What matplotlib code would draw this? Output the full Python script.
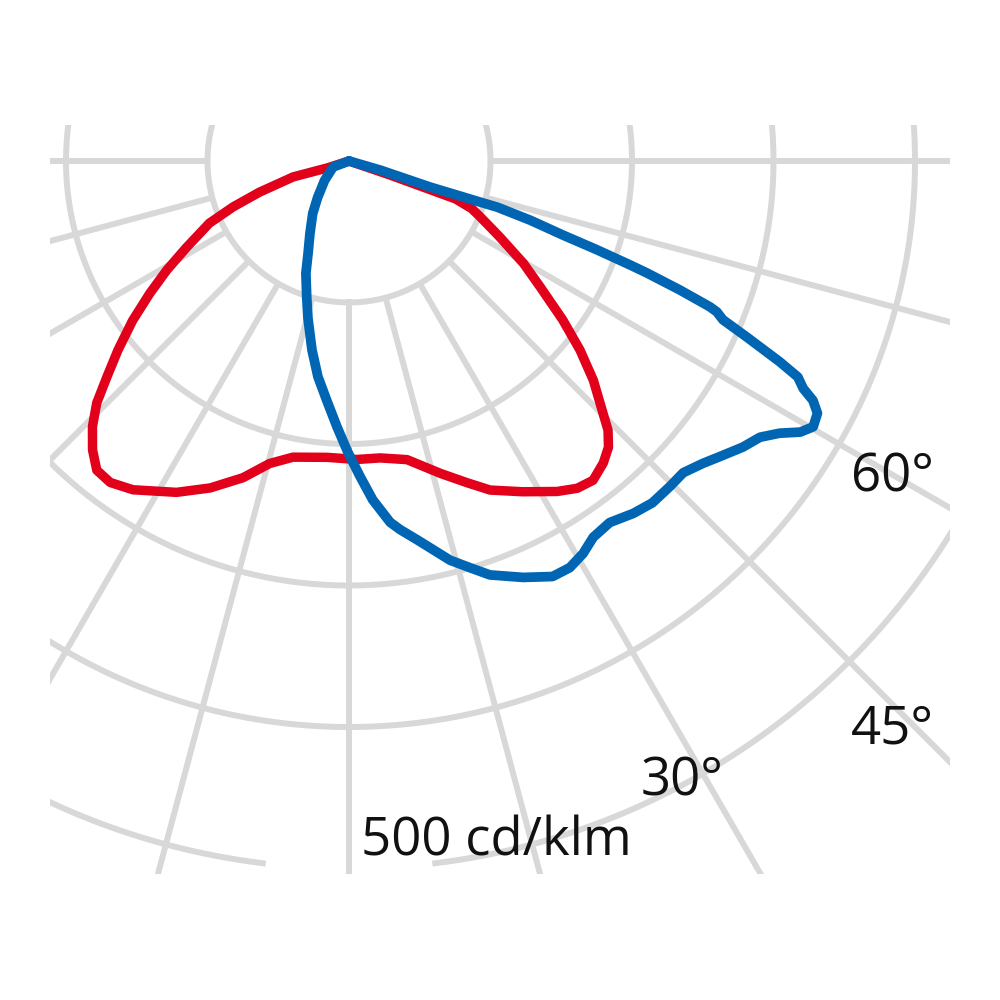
import numpy as np
import matplotlib.pyplot as plt
from matplotlib.patches import Rectangle

# light distribution curves, listed along the drawn path:
# gamma angle (deg, 0 = straight down, + = right) and intensity (cd/klm)
red_gamma = [0, -72.3, -74.1, -70.8, -68.4, -66.0, -62.0, -59.1, -56.4, -53.6, -50.7,
             -48.3, -46.2, -44.0, -41.6, -39.2, -36.6, -33.3, -27.5, -23.0, -18.5,
             -14.7, -10.7, -4.2, 1.5, 6.0, 11.0, 16.3, 20.1, 23.2, 27.7, 32.2, 34.9,
             37.4, 40.1, 42.2, 43.9, 45.2, 48.1, 50.7, 53.4, 56.6, 59.6, 63.3, 66.9,
             68.8, 70.4, 71.1, 0]
red_cd = [0, 16, 41, 67, 88, 108, 130, 150, 169, 190, 211,
          229, 247, 261, 273, 282, 283, 278, 264, 251, 236,
          221, 213, 210, 211, 211, 215, 230, 242, 253, 264, 276, 282,
          284, 279, 273, 264, 253, 232, 211, 188, 162, 143, 119, 101,
          93, 80, 31, 0]

blue_gamma = [0, -69.4, -51.6, -40.7, -34.7, -28.4, -24.0, -21.0, -17.2, -14.6, -11.1,
              -8.2, -5.3, -2.6, -0.2, 2.0, 4.0, 6.5, 7.9, 10.2, 12.2, 14.2, 16.6,
              18.8, 22.7, 26.1, 28.5, 30.8, 33.0, 35.8, 38.9, 41.6, 44.6, 47.0, 49.5,
              51.4, 54.0, 56.1, 57.7, 59.0, 60.2, 61.7, 62.7, 63.4, 64.3, 65.0, 66.1,
              67.0, 67.7, 68.0, 68.7, 69.4, 69.7, 70.3, 70.9, 71.9, 72.7, 72.6, 72.2,
              73.8, 0]
blue_cd = [0, 12, 22, 34, 45, 58, 71, 85, 101, 115, 136,
           154, 170, 188, 206, 223, 240, 257, 263, 272, 281, 291, 300,
           309, 319, 327, 327, 323, 317, 315, 320, 323, 323, 323, 329,
           335, 344, 350, 360, 372, 378, 376, 369, 359, 352, 336, 308,
           287, 281, 275, 251, 225, 212, 186, 160, 135, 110, 97, 60,
           23, 0]

ring_values = [100, 200, 300, 400, 500]
ray_angles = np.arange(-90, 91, 15)
angle_labels = ["60°", "45°", "30°"]
scale_label = "500 cd/klm"

# pixel frame of the reference (1000 x 1000): diagram centre and px per cd/klm
cx, cy, s = 349, 161, 1.415


def px(x, y):
    return (x - cx) / s, -(y - cy) / s


def xy(gamma, cd):
    g = np.radians(np.asarray(gamma, dtype=float))
    cd = np.asarray(cd, dtype=float)
    return cd * np.sin(g), -cd * np.cos(g)


fig = plt.figure(figsize=(10, 10), dpi=100)
ax = fig.add_axes([0, 0, 1, 1])
ax.set_xlim(-cx / s, (1000 - cx) / s)
ax.set_ylim(-(1000 - cy) / s, cy / s)
ax.set_aspect("equal")
ax.axis("off")

x0, y1 = px(50, 125)
x1, y0 = px(950, 874)
clip = Rectangle((x0, y0), x1 - x0, y1 - y0, transform=ax.transData,
                 facecolor="none", edgecolor="none")
ax.add_patch(clip)

grid_col = "#d8d8d8"
for r in ring_values:
    if r == ring_values[-1]:
        t = np.radians(np.linspace(7, 353, 700))   # gap under the scale label
    else:
        t = np.radians(np.linspace(0, 360, 721))
    ln, = ax.plot(r * np.sin(t), -r * np.cos(t), color=grid_col, lw=4.3, zorder=1)
    ln.set_clip_path(clip)

for a in ray_angles:
    gx, gy = xy([a, a], [ring_values[0], 1200])
    ln, = ax.plot(gx, gy, color=grid_col, lw=4.3, zorder=1, solid_capstyle="butt")
    ln.set_clip_path(clip)

rx, ry = xy(red_gamma, red_cd)
ax.plot(rx, ry, color="#e2001a", lw=6.8, zorder=3, solid_joinstyle="round",
        solid_capstyle="round")
bx, by = xy(blue_gamma, blue_cd)
ax.plot(bx, by, color="#0066b3", lw=7.0, zorder=4, solid_joinstyle="round",
        solid_capstyle="round")

font = "Open Sans"
for lab, (lx, ly) in zip(angle_labels, [(851, 492), (851, 743), (641, 795)]):
    ax.text(*px(lx, ly), lab, fontsize=38, family=font, ha="left", va="baseline",
            color="#111111", zorder=5)
ax.text(*px(361, 855), scale_label, fontsize=38, family=font, ha="left",
        va="baseline", color="#111111", zorder=5)

fig.savefig("out.png", dpi=100, facecolor="white")
